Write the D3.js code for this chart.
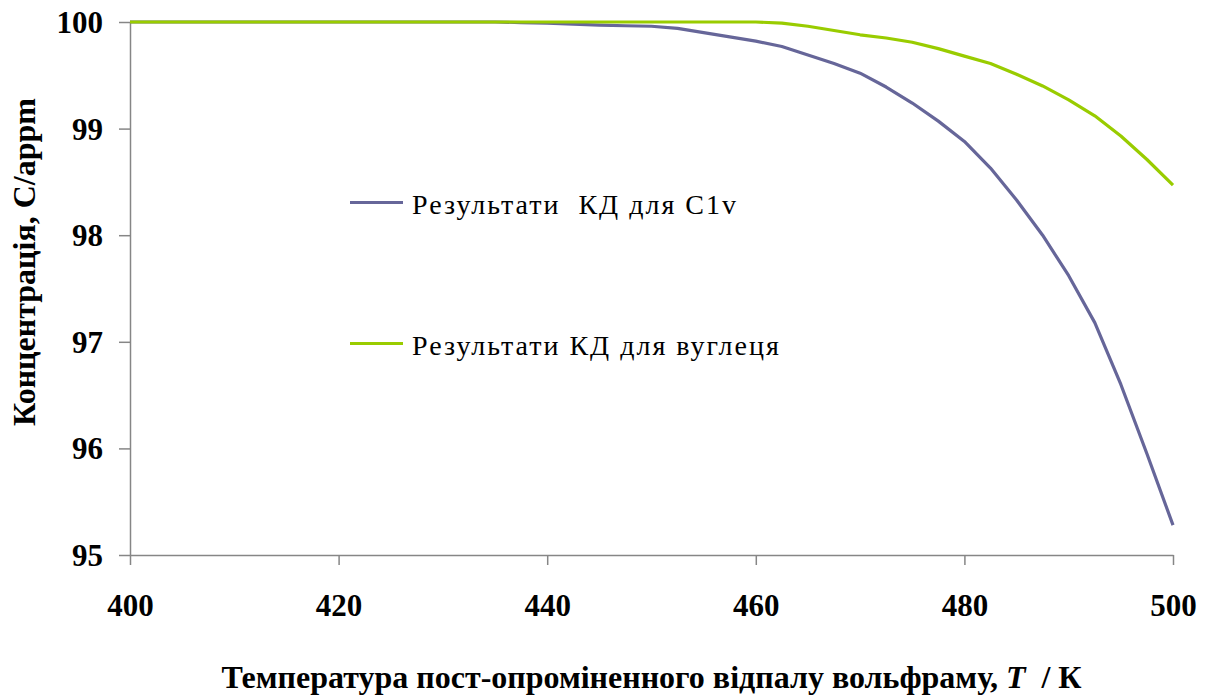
<!DOCTYPE html>
<html>
<head>
<meta charset="utf-8">
<script src="https://cdn.jsdelivr.net/npm/d3@7"></script>
<style>
  html, body { margin: 0; padding: 0; background: #fff; }
  svg { display: block; }
  svg text { font-family: "Liberation Serif", "Times New Roman", "DejaVu Serif", serif; }
</style>
</head>
<body>
<svg id="chart" width="1216" height="699"></svg>
<script>
// ---- data ----
const temperatures = [400, 402.5, 405, 407.5, 410, 412.5, 415, 417.5, 420, 422.5, 425, 427.5, 430, 432.5, 435,
  437.5, 440, 442.5, 445, 447.5, 450, 452.5, 455, 457.5, 460, 462.5, 465, 467.5, 470, 472.5, 475,
  477.5, 480, 482.5, 485, 487.5, 490, 492.5, 495, 497.5, 500];
const c1vValues = [100, 100, 100, 100, 100, 100, 100, 100, 100, 100, 100, 100, 100, 100, 100,
  99.995, 99.99, 99.98, 99.97, 99.965, 99.96, 99.94, 99.90, 99.86, 99.82, 99.77, 99.69, 99.61, 99.52, 99.39, 99.24,
  99.07, 98.88, 98.63, 98.33, 98.00, 97.62, 97.18, 96.60, 95.95, 95.28];
const carbonValues = [100, 100, 100, 100, 100, 100, 100, 100, 100, 100, 100, 100, 100, 100, 100,
  100, 100, 100, 100, 100, 100, 100, 100, 100, 100, 99.99, 99.96, 99.92, 99.88, 99.85, 99.81,
  99.75, 99.68, 99.61, 99.51, 99.40, 99.27, 99.12, 98.93, 98.71, 98.47];
const xTicks = [400, 420, 440, 460, 480, 500];
const yTicks = [95, 96, 97, 98, 99, 100];
const seriesNames = ["Результати  КД для C1v", "Результати КД для вуглеця"];
const seriesColors = ["#666699", "#99CC00"];
const xTitle = "Температура пост-опроміненного відпалу вольфраму, ";
const yTitle = "Концентрація, C/appm";

// ---- layout ----
const svg = d3.select("#chart");
const plotLeft = 130, plotRight = 1173, plotTop = 22, plotBottom = 555;
const x = d3.scaleLinear().domain([400, 500]).range([plotLeft, plotRight]);
const y = d3.scaleLinear().domain([95, 100]).range([plotBottom, plotTop]);
const axisColor = "#868686";

// axes
const xAxis = svg.append("g").attr("transform", `translate(0,${plotBottom})`)
  .call(d3.axisBottom(x).tickValues(xTicks).tickSize(10).tickSizeOuter(0).tickPadding(29).tickFormat(d3.format("d")));
const yAxis = svg.append("g").attr("transform", `translate(${plotLeft},0)`)
  .call(d3.axisLeft(y).tickValues(yTicks).tickSize(11).tickSizeOuter(0).tickPadding(16).tickFormat(d3.format("d")));
[xAxis, yAxis].forEach(g => {
  g.select(".domain").attr("stroke", axisColor).attr("stroke-width", 1.5);
  g.selectAll(".tick line").attr("stroke", axisColor).attr("stroke-width", 1.5);
  g.selectAll(".tick text").attr("fill", "#000")
    .attr("font-weight", "bold").attr("font-size", 31);
});
xAxis.selectAll(".tick text").attr("dy", "0.71em");
yAxis.selectAll(".tick text").attr("dy", "0.34em");

// lines
const line = d3.line().x((d, i) => x(temperatures[i])).y(d => y(d));
const series = [c1vValues, carbonValues];
series.forEach((vals, k) => {
  svg.append("path").datum(vals)
    .attr("d", line)
    .attr("fill", "none")
    .attr("stroke", seriesColors[k])
    .attr("stroke-width", 3.2)
    .attr("stroke-linejoin", "round");
});

// legend
const legendY = [202.5, 343.5];
seriesNames.forEach((name, k) => {
  svg.append("line").attr("x1", 350).attr("x2", 403).attr("y1", legendY[k]).attr("y2", legendY[k])
    .attr("stroke", seriesColors[k]).attr("stroke-width", 3.2);
  svg.append("text").attr("x", 412).attr("y", legendY[k] + 11)
    .attr("font-size", 28).attr("fill", "#000").attr("letter-spacing", 2)
    .style("white-space", "pre").text(name);
});

// axis titles
const xt = svg.append("text").attr("x", (plotLeft + plotRight) / 2).attr("y", 688)
  .attr("text-anchor", "middle").attr("font-weight", "bold").attr("font-size", 32).attr("fill", "#000")
  .style("white-space", "pre");
xt.append("tspan").text(xTitle);
xt.append("tspan").attr("font-style", "italic").text("T");
xt.append("tspan").text("  / К");

svg.append("text").attr("transform", `translate(35,262) rotate(-90)`)
  .attr("text-anchor", "middle").attr("font-weight", "bold").attr("font-size", 32).attr("fill", "#000")
  .text(yTitle);
</script>
</body>
</html>
